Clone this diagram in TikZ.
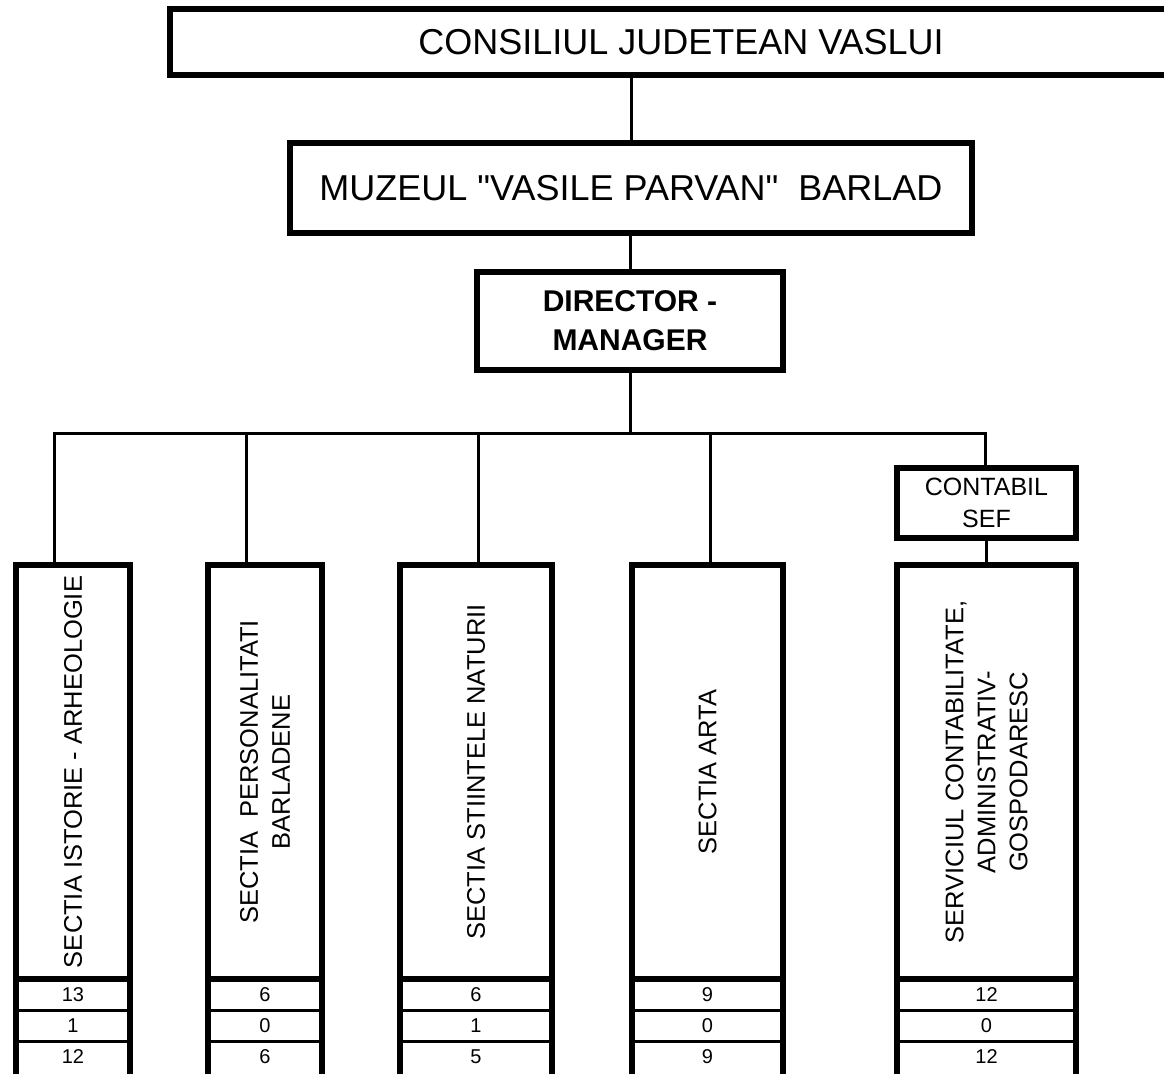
\documentclass[tikz,border=0pt]{standalone}
\usepackage{fontspec}
\setmainfont{Liberation Sans}[Ligatures=TeXOff]
\usetikzlibrary{positioning, calc}

\tikzset{
  box/.style={draw, line width=3pt, inner sep=0pt, outer sep=0pt, align=center},
  link/.style={line width=1.5pt},
  side/.style={line width=3pt},
  coltext/.style={rotate=90, align=center, inner sep=0pt, font=\fontsize{12.75pt}{16pt}\selectfont},
  num/.style={inner sep=0pt, font=\fontsize{10pt}{12pt}\selectfont},
}

\begin{document}
\begin{tikzpicture}[x=0.5pt, y=-0.5pt]
      \path[use as bounding box, fill=white] (0, 0) rectangle (1164, 1074);

      \node[box, minimum width=511pt, minimum height=33pt, font=\fontsize{18pt}{21.6pt}\selectfont] (cj) at (681, 42) {CONSILIUL JUDETEAN VASLUI};
      \node[box, minimum width=341pt, minimum height=45pt, font=\fontsize{18pt}{21.6pt}\selectfont] (muz) at (631, 188) {MUZEUL "VASILE PARVAN"\ \ BARLAD};
      \node[box, minimum width=153pt, minimum height=49pt, font=\fontsize{15pt}{19.5pt}\selectfont\bfseries] (dir) at (630, 321) {DIRECTOR -\\MANAGER};
      \node[box, minimum width=89.5pt, minimum height=35pt, font=\fontsize{12.5pt}{16pt}\selectfont] (cont) at (986.5, 503) {CONTABIL\\SEF};

      \node[box, minimum width=57pt, minimum height=207pt] (ist) at (73, 772) {};
      \node[box, minimum width=57pt, minimum height=207pt] (pers) at (265, 772) {};
      \node[box, minimum width=76pt, minimum height=207pt] (nat) at (476, 772) {};
      \node[box, minimum width=75.5pt, minimum height=207pt] (arta) at (707.5, 772) {};
      \node[box, minimum width=89.5pt, minimum height=207pt] (serv) at (986.5, 772) {};

      \node[coltext] at (ist) {SECTIA ISTORIE - ARHEOLOGIE};
      \node[coltext] at (pers) {SECTIA\ \ PERSONALITATI\\BARLADENE};
      \node[coltext] at (nat) {SECTIA STIINTELE NATURII};
      \node[coltext] at (arta) {SECTIA ARTA};
      \node[coltext] at (serv) {SERVICIUL CONTABILITATE,\\ADMINISTRATIV-\\GOSPODARESC};

      \coordinate (b1) at (54, 434);
      \coordinate (b2) at (246, 434);
      \coordinate (b3) at (478, 434);
      \coordinate (b4) at (710, 434);
      \coordinate (b5) at (985, 434);

      \draw[link] (muz.north) -- (muz.north |- cj.south);
      \draw[link] (dir.north) -- (dir.north |- muz.south);
      \draw[link] (dir.south) -- (dir.south |- b1);
      \draw[link] (b1 |- ist.north) -- (b1) -- (b5) -- (b5 |- cont.north);
      \draw[link] (b2) -- (b2 |- pers.north);
      \draw[link] (b3) -- (b3 |- nat.north);
      \draw[link] (b4) -- (b4 |- arta.north);
      \draw[link] (cont.south) -- (serv.north);

      \draw[side] (ist.south west) -- ++(0, 100) (ist.south east) -- ++(0, 100);
      \draw[side] (pers.south west) -- ++(0, 100) (pers.south east) -- ++(0, 100);
      \draw[side] (nat.south west) -- ++(0, 100) (nat.south east) -- ++(0, 100);
      \draw[side] (arta.south west) -- ++(0, 100) (arta.south east) -- ++(0, 100);
      \draw[side] (serv.south west) -- ++(0, 100) (serv.south east) -- ++(0, 100);

      \draw[link] ([yshift=-15.75pt]ist.south west) -- ([yshift=-15.75pt]ist.south east) ([yshift=-31.25pt]ist.south west) -- ([yshift=-31.25pt]ist.south east);
      \draw[link] ([yshift=-15.75pt]pers.south west) -- ([yshift=-15.75pt]pers.south east) ([yshift=-31.25pt]pers.south west) -- ([yshift=-31.25pt]pers.south east);
      \draw[link] ([yshift=-15.75pt]nat.south west) -- ([yshift=-15.75pt]nat.south east) ([yshift=-31.25pt]nat.south west) -- ([yshift=-31.25pt]nat.south east);
      \draw[link] ([yshift=-15.75pt]arta.south west) -- ([yshift=-15.75pt]arta.south east) ([yshift=-31.25pt]arta.south west) -- ([yshift=-31.25pt]arta.south east);
      \draw[link] ([yshift=-15.75pt]serv.south west) -- ([yshift=-15.75pt]serv.south east) ([yshift=-31.25pt]serv.south west) -- ([yshift=-31.25pt]serv.south east);

      \node[num] at ([yshift=-8pt]ist.south) {13};
      \node[num] at ([yshift=-23.5pt]ist.south) {1};
      \node[num] at ([yshift=-39pt]ist.south) {12};
      \node[num] at ([yshift=-8pt]pers.south) {6};
      \node[num] at ([yshift=-23.5pt]pers.south) {0};
      \node[num] at ([yshift=-39pt]pers.south) {6};
      \node[num] at ([yshift=-8pt]nat.south) {6};
      \node[num] at ([yshift=-23.5pt]nat.south) {1};
      \node[num] at ([yshift=-39pt]nat.south) {5};
      \node[num] at ([yshift=-8pt]arta.south) {9};
      \node[num] at ([yshift=-23.5pt]arta.south) {0};
      \node[num] at ([yshift=-39pt]arta.south) {9};
      \node[num] at ([yshift=-8pt]serv.south) {12};
      \node[num] at ([yshift=-23.5pt]serv.south) {0};
      \node[num] at ([yshift=-39pt]serv.south) {12};
\end{tikzpicture}
\end{document}
